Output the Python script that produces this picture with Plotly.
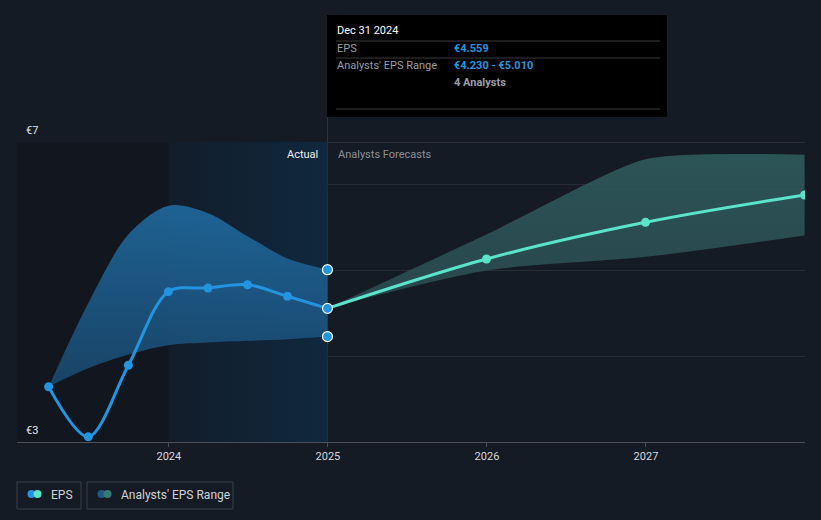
import plotly.graph_objects as go
import pandas as pd

# ---------------- data ----------------
eps_dates = ["2023-03-31", "2023-06-30", "2023-09-30", "2023-12-31",
             "2024-03-31", "2024-06-30", "2024-09-30", "2024-12-31"]
eps_values = [3.645, 3.060, 3.895, 4.754, 4.797, 4.835, 4.700, 4.559]
past_range_high = [3.645, 4.62, 5.42, 5.757, 5.67, 5.40, 5.14, 5.010]
past_range_low = [3.645, 3.86, 4.02, 4.13, 4.16, 4.18, 4.20, 4.230]

fc_dates = ["2024-12-31", "2025-12-31", "2026-12-31", "2027-12-31"]
fc_eps = [4.559, 5.135, 5.563, 5.882]
fc_high = [4.559, 5.42, 6.30, 6.35]
fc_low = [4.559, 5.00, 5.16, 5.41]

year_ticks = [2024, 2025, 2026, 2027]
y_min, y_max = 3.0, 6.5
y_grid = [4, 5, 6]
y_labels = ["€7", "€3"]

tooltip_date = "Dec 31 2024"
tooltip_eps = "€4.559"
tooltip_range = "€4.230 - €5.010"
tooltip_analysts = "4 Analysts"

past_shade_start = 2024.0


def to_year(d):
    t = pd.Timestamp(d)
    days = 366 if t.is_leap_year else 365
    return t.year + (t.dayofyear - 1) / days


ex = [to_year(d) for d in eps_dates]
fx = [to_year(d) for d in fc_dates]
today = ex[-1]
x_lo, x_hi = 2023.045, 2028.0

# pixel helpers for decorations (plot area 17..805 x 142..442)
L, R, T, B = 17, 805, 142, 442


def px(xp):
    return (xp - L) / (R - L)


def py(yp):
    return (B - yp) / (B - T)


BG = "#151b25"
BLUE = "#2394df"
TEAL = "#5be3cb"
FONT = "Roboto"

fig = go.Figure()

# background shading of the "actual" area
fig.add_trace(go.Scatter(
    x=[x_lo, past_shade_start, past_shade_start, x_lo],
    y=[y_min, y_min, y_max, y_max], fill="toself", mode="none",
    fillcolor="#12161e", hoverinfo="skip", showlegend=False))
fig.add_trace(go.Scatter(
    x=[past_shade_start, today, today, past_shade_start],
    y=[y_min, y_min, y_max, y_max], fill="toself", mode="none",
    fillgradient=dict(type="horizontal", start=past_shade_start, stop=today,
                      colorscale=[[0, "#121d2a"], [1, "#10283e"]]),
    hoverinfo="skip", showlegend=False))

# past analyst range band
fig.add_trace(go.Scatter(
    x=ex, y=past_range_low, mode="lines", line=dict(width=0, shape="spline", smoothing=0.9),
    hoverinfo="skip", showlegend=False))
fig.add_trace(go.Scatter(
    x=ex, y=past_range_high, mode="lines", fill="tonexty",
    line=dict(width=0, shape="spline", smoothing=0.9),
    fillgradient=dict(type="vertical", start=3.6, stop=5.8,
                      colorscale=[[0, "rgba(26,72,110,0.88)"], [1, "rgba(31,108,163,0.88)"]]),
    hoverinfo="skip", showlegend=False))

# forecast range band
fig.add_trace(go.Scatter(
    x=fx, y=fc_low, mode="lines", line=dict(width=0, shape="spline", smoothing=0.8),
    hoverinfo="skip", showlegend=False))
fig.add_trace(go.Scatter(
    x=fx, y=fc_high, mode="lines", fill="tonexty",
    line=dict(width=0, shape="spline", smoothing=0.6),
    fillgradient=dict(type="vertical", start=4.5, stop=6.4,
                      colorscale=[[0, "rgba(44,80,86,0.8)"], [1, "rgba(50,98,98,0.8)"]]),
    hoverinfo="skip", showlegend=False))

# EPS actual
fig.add_trace(go.Scatter(
    x=ex, y=eps_values, mode="lines+markers",
    line=dict(color=BLUE, width=3, shape="spline", smoothing=0.9),
    marker=dict(color=BLUE, size=9), showlegend=False))

# EPS forecast
fig.add_trace(go.Scatter(
    x=fx, y=fc_eps, mode="lines+markers",
    line=dict(color=TEAL, width=3, shape="spline", smoothing=0.9),
    marker=dict(color=TEAL, size=9), showlegend=False))

# hover highlight points
fig.add_trace(go.Scatter(
    x=[today] * 3, y=[past_range_high[-1], eps_values[-1], past_range_low[-1]],
    mode="markers", marker=dict(color=BLUE, size=10, line=dict(color="white", width=1.2)),
    showlegend=False))

shapes = []
# top line
shapes.append(dict(type="line", xref="paper", yref="y", x0=0, x1=1, y0=y_max, y1=y_max,
                   line=dict(color="#3c4149", width=1), layer="below"))
# vertical boundary lines
shapes.append(dict(type="line", xref="x", yref="paper", x0=past_shade_start, x1=past_shade_start,
                   y0=0, y1=1, line=dict(color="#1a2e42", width=1), layer="below"))
shapes.append(dict(type="line", xref="x", yref="paper", x0=today, x1=today,
                   y0=0, y1=py(117), line=dict(color="#1b3a55", width=1), layer="below"))
# tooltip
shapes.append(dict(type="rect", xref="paper", yref="paper", x0=px(327), x1=px(667),
                   y0=py(117), y1=py(15), fillcolor="#000000", line=dict(width=0)))
for yy in (41, 58, 109):
    shapes.append(dict(type="line", xref="paper", yref="paper", x0=px(336), x1=px(660),
                       y0=py(yy), y1=py(yy), line=dict(color="#3a3a3a", width=1)))
# legend boxes
shapes.append(dict(type="rect", xref="paper", yref="paper", x0=px(17), x1=px(81),
                   y0=py(509), y1=py(482), line=dict(color="#3b414b", width=1), fillcolor=BG))
shapes.append(dict(type="rect", xref="paper", yref="paper", x0=px(87), x1=px(233),
                   y0=py(509), y1=py(482), line=dict(color="#3b414b", width=1), fillcolor=BG))
for cx, col in ((31.5, BLUE), (37.5, TEAL), (101.5, "#1f5a86"), (107.5, "#367a78")):
    shapes.append(dict(type="circle", xref="paper", yref="paper",
                       x0=px(cx - 4), x1=px(cx + 4), y0=py(498), y1=py(490),
                       fillcolor=col, line=dict(width=0)))

ann = []


def txt(x, y, s, color, size=11, anchor="left", bold=False):
    ann.append(dict(xref="paper", yref="paper", x=px(x), y=py(y), text=f"<b>{s}</b>" if bold else s,
                    showarrow=False, xanchor=anchor, yanchor="middle",
                    font=dict(family=FONT, size=size, color=color)))


txt(24, 130, y_labels[0], "#e6e8ea")
txt(24, 430, y_labels[1], "#e6e8ea")
txt(320, 154, "Actual", "#eef0f2", anchor="right")
txt(336, 154, "Analysts Forecasts", "#8b9097")
txt(335, 31, tooltip_date, "#ffffff")
txt(335, 49, "EPS", "#9a9ea4")
txt(452, 49, tooltip_eps, BLUE, bold=True)
txt(335, 66, "Analysts' EPS Range", "#9a9ea4")
txt(452, 66, tooltip_range, BLUE, bold=True)
txt(452, 83, tooltip_analysts, "#9a9ea4", bold=True)
txt(49, 495, "EPS", "#d0d3d7", size=12)
txt(119, 495, "Analysts' EPS Range", "#d0d3d7", size=12)

fig.update_layout(
    width=821, height=520,
    margin=dict(l=L, r=821 - R, t=T, b=520 - B),
    paper_bgcolor=BG, plot_bgcolor=BG,
    font=dict(family=FONT, color="#d5d8dc", size=11),
    shapes=shapes, annotations=ann, showlegend=False,
    xaxis=dict(range=[x_lo, x_hi], tickvals=year_ticks, ticktext=[str(y) for y in year_ticks],
               showgrid=False, zeroline=False, showline=True, linecolor="#4b5059", linewidth=1,
               ticks="outside", ticklen=4, tickcolor="#4b5059",
               tickfont=dict(family=FONT, size=11, color="#d5d8dc")),
    yaxis=dict(range=[y_min, y_max], tickvals=y_grid, showticklabels=False,
               showgrid=True, gridcolor="#272d36", gridwidth=1, zeroline=False),
)

fig.write_html("out.html", config={"displayModeBar": False},
               post_script="document.body.style.margin='0';document.body.style.background='#151b25';")
